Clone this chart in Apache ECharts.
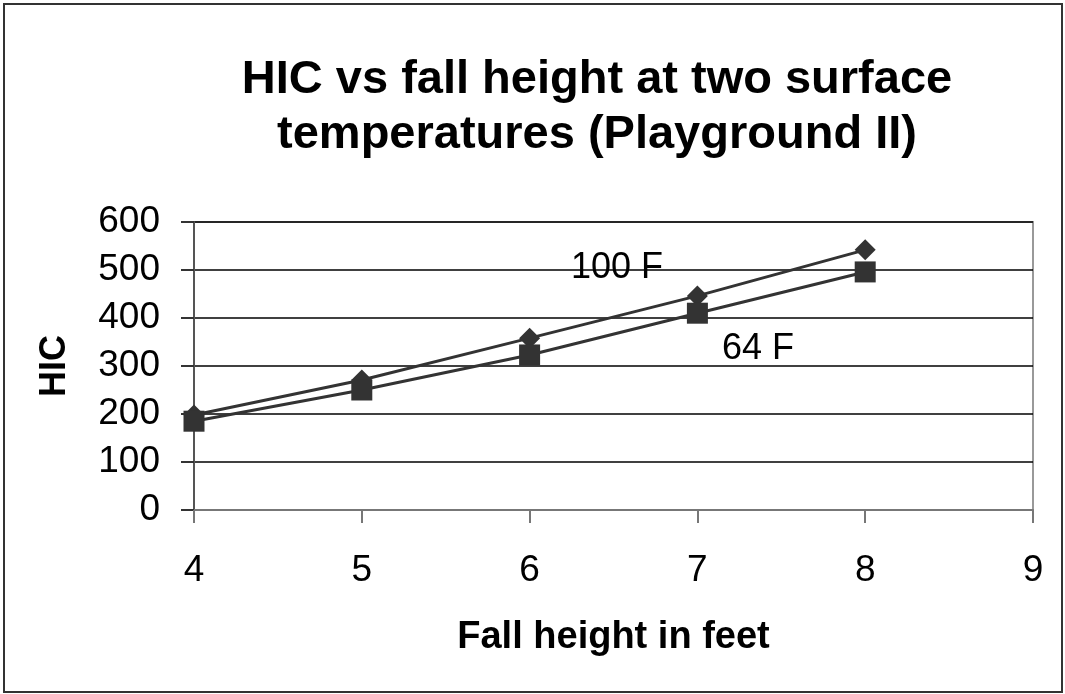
<!DOCTYPE html>
<html>
<head>
<meta charset="utf-8">
<script src="https://cdn.jsdelivr.net/npm/echarts@6/dist/echarts.min.js"></script>
<style>
  html, body { margin: 0; padding: 0; background: #fff; }
  #chart { width: 1065px; height: 694px; }
</style>
</head>
<body>
<div id="chart"></div>
<script>
// fall height in feet
var heights = [4, 5, 6, 7, 8];
// HIC at each surface temperature
var hic100F = [198, 271, 358, 446, 542];
var hic64F = [185, 250, 323, 410, 496];
var yTicks = [0, 100, 200, 300, 400, 500, 600];
var xTicks = [4, 5, 6, 7, 8, 9];

var font = 'Liberation Sans, Arial, sans-serif';

function pairs(xs, ys) {
    return xs.map(function (x, i) { return [x, ys[i]]; });
}

var chart = echarts.init(document.getElementById('chart'));
var option = {
    backgroundColor: '#fff',
    animation: false,
    title: {
        text: 'HIC vs fall height at two surface\ntemperatures (Playground II)',
        left: 592,
        top: 48,
        textAlign: 'center',
        textStyle: { fontFamily: font, fontSize: 47, fontWeight: 'bold', color: '#000', lineHeight: 55 }
    },
    grid: {
        left: 194, right: 32, top: 222, bottom: 184,
        show: true, borderColor: '#999', borderWidth: 2, backgroundColor: 'transparent'
    },
    xAxis: {
        type: 'value',
        min: xTicks[0], max: xTicks[xTicks.length - 1], interval: 1,
        name: 'Fall height in feet',
        nameLocation: 'middle',
        nameGap: 109,
        nameTextStyle: { fontFamily: font, fontSize: 38, fontWeight: 'bold', color: '#000' },
        axisLine: { lineStyle: { color: '#777', width: 2 } },
        axisTick: { length: 13, lineStyle: { color: '#777', width: 2 } },
        axisLabel: { fontFamily: font, fontSize: 37, color: '#000', margin: 42 },
        splitLine: { show: false }
    },
    yAxis: {
        type: 'value',
        min: yTicks[0], max: yTicks[yTicks.length - 1], interval: 100,
        name: 'HIC',
        nameLocation: 'middle',
        nameGap: 121,
        nameRotate: 90,
        nameTextStyle: { fontFamily: font, fontSize: 36, fontWeight: 'bold', color: '#000' },
        axisLine: { show: true, lineStyle: { color: '#555', width: 2 } },
        axisTick: { show: true, length: 13, lineStyle: { color: '#333', width: 2 } },
        axisLabel: { fontFamily: font, fontSize: 37, color: '#000', margin: 34 },
        splitLine: { lineStyle: { color: '#000', width: 1.5 } }
    },
    series: [
        {
            name: '100 F',
            type: 'line',
            data: pairs(heights, hic100F),
            symbol: 'diamond',
            symbolSize: 21,
            itemStyle: { color: '#333' },
            lineStyle: { color: '#333', width: 3 }
        },
        {
            name: '64 F',
            type: 'line',
            data: pairs(heights, hic64F),
            symbol: 'rect',
            symbolSize: 21,
            itemStyle: { color: '#333' },
            lineStyle: { color: '#333', width: 3 }
        }
    ],
    graphic: [
        {
            type: 'rect',
            shape: { x: 4, y: 4, width: 1058, height: 688 },
            style: { fill: 'none', stroke: '#333', lineWidth: 2 },
            z: 10
        },
        {
            type: 'text', left: 571, top: 250, z: 10,
            style: { text: '100 F', font: '36px ' + font, fill: '#000' }
        },
        {
            type: 'text', left: 722, top: 331, z: 10,
            style: { text: '64 F', font: '36px ' + font, fill: '#000' }
        }
    ]
};
chart.setOption(option);
window.onresize = chart.resize;
</script>
</body>
</html>
